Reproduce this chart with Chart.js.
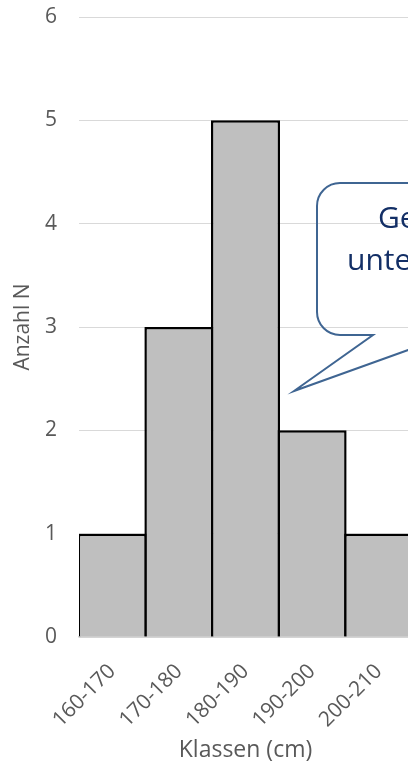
<!DOCTYPE html>
<html>
<head>
<meta charset="utf-8">
<script src="https://cdn.jsdelivr.net/npm/chart.js@4.4.0/dist/chart.umd.min.js"></script>
<style>
  html, body { margin: 0; padding: 0; overflow: hidden; background: #fff; }
  #wrap { position: relative; width: 412px; height: 769px; }
</style>
</head>
<body>
<div id="wrap"><canvas id="histo"></canvas></div>
<script>
// Klassenhäufigkeiten der Körpergröße
const klassen = ['160-170', '170-180', '180-190', '190-200', '200-210'];
const anzahl = [1, 3, 5, 2, 1];
const yMax = 6;

const grau = '#595959';
Chart.defaults.font.family = "'Open Sans', sans-serif";
Chart.defaults.color = grau;

// Sprechblase rechts neben dem Histogramm
const sprechblase = {
    id: 'sprechblase',
    afterDraw(chart) {
        const c = chart.ctx;
        const l = 317, t = 183, b = 335, r = 560, rad = 23;
        c.save();
        c.beginPath();
        c.moveTo(l + rad, t);
        c.lineTo(r - rad, t);
        c.arcTo(r, t, r, t + rad, rad);
        c.lineTo(r, b - rad);
        c.arcTo(r, b, r - rad, b, rad);
        c.lineTo(450, b);
        c.lineTo(294, 391);
        c.lineTo(373, b);
        c.lineTo(l + rad, b);
        c.arcTo(l, b, l, b - rad, rad);
        c.lineTo(l, t + rad);
        c.arcTo(l, t, l + rad, t, rad);
        c.closePath();
        c.strokeStyle = '#3f6592';
        c.lineWidth = 2;
        c.stroke();
        c.fillStyle = '#132f66';
        c.font = "30px 'Open Sans'";
        c.textBaseline = 'alphabetic';
        c.fillText('Gesamtzahl', 378, 228);
        c.fillText('untersuchter Personen', 347, 270);
        c.restore();
    }
};

new Chart(document.getElementById('histo'), {
    type: 'bar',
    data: {
        labels: klassen,
        datasets: [{
            label: 'Anzahl N',
            data: anzahl,
            backgroundColor: '#bfbfbf',
            borderColor: '#000000',
            borderWidth: 2.5,
            barPercentage: 1.037,
            categoryPercentage: 1
        }]
    },
    options: {
        responsive: true,
        maintainAspectRatio: false,
        animation: false,
        layout: { padding: { top: 17, left: 0, right: 0, bottom: 0 } },
        plugins: {
            legend: { display: false },
            tooltip: { enabled: false }
        },
        scales: {
            x: {
                grid: { display: false },
                border: { display: true, color: '#d0d0d0', width: 1.5 },
                ticks: {
                    autoSkip: false,
                    minRotation: 45,
                    maxRotation: 45,
                    padding: 14,
                    font: { size: 21 }
                },
                title: {
                    display: true,
                    text: 'Klassen (cm)',
                    font: { size: 23 },
                    padding: { top: 4, bottom: 5 }
                },
                afterFit(scale) { scale.height = 132; }
            },
            y: {
                min: 0,
                max: yMax,
                grid: { color: '#d9d9d9', lineWidth: 1, drawTicks: false },
                border: { display: false },
                ticks: { stepSize: 1, padding: 22, font: { size: 21 } },
                title: {
                    display: true,
                    text: 'Anzahl N',
                    font: { size: 21 },
                    padding: { top: 10, bottom: 0 }
                },
                afterFit(scale) {
                    scale.width = 79;
                    scale.paddingTop = 0;
                    scale.paddingBottom = 0;
                }
            }
        }
    },
    plugins: [sprechblase]
});
</script>
</body>
</html>
